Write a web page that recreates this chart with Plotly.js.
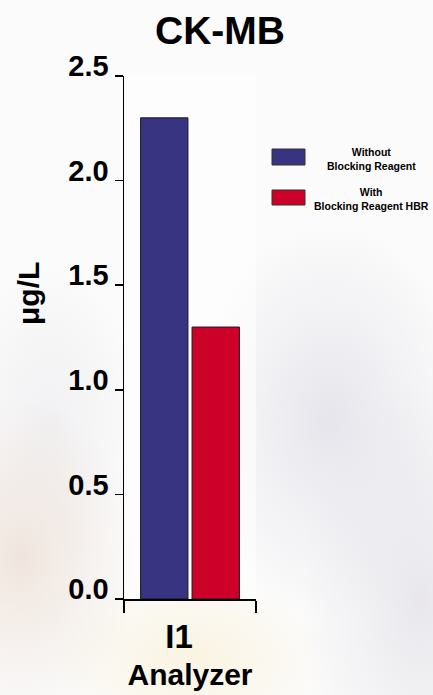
<!DOCTYPE html>
<html><head><meta charset="utf-8">
<script src="https://cdn.plot.ly/plotly-3.0.1.min.js"></script>
<style>
html,body{margin:0;padding:0;width:433px;height:695px;overflow:hidden;}
body{
  background:
    radial-gradient(ellipse 120px 160px at 20px 560px, rgba(236,222,212,0.75), rgba(236,222,212,0) 100%),
    radial-gradient(ellipse 140px 200px at 330px 420px, rgba(226,224,232,0.8), rgba(226,224,232,0) 100%),
    radial-gradient(ellipse 120px 220px at 420px 600px, rgba(228,226,232,0.8), rgba(228,226,232,0) 100%),
    radial-gradient(ellipse 140px 90px at 190px 660px, rgba(250,243,222,0.9), rgba(250,243,222,0) 100%),
    radial-gradient(ellipse 90px 160px at 50px 420px, rgba(234,232,236,0.6), rgba(234,232,236,0) 100%),
    #fbfbfb;
}
#chart{width:433px;height:695px;}
</style></head><body><div id="chart"></div>
<script>
const categories = ['I1'];
const seriesNames = ['Without<br>Blocking Reagent', 'With<br>Blocking Reagent HBR'];
const withoutBlocking = [2.3];
const withBlocking = [1.3];
const yTickVals = [0, 0.5, 1, 1.5, 2, 2.5];
const yTickText = ['0.0', '0.5', '1.0', '1.5', '2.0', '2.5'];
const seriesColors = ['#383482', '#cc0029'];
const chartTitle = 'CK-MB';
const yTitle = 'μg/L';
const xTitle = 'Analyzer';

const FONT = 'Liberation Sans, Arial, sans-serif';
const W = 433, H = 695;
const L = 124, R = 256, T = 76, B = 599;
const px = v => (v - L) / (R - L);
const py = v => (B - v) / (B - T);

const traces = [withoutBlocking, withBlocking].map((vals, i) => ({
  type: 'bar',
  x: categories,
  y: vals,
  name: seriesNames[i],
  marker: {color: seriesColors[i], line: {color: '#1a1a1a', width: 1}},
  showlegend: false,
  hoverinfo: 'none'
}));

const shapes = [];
const annotations = [];
const swatches = [[149, 165, 159], [190, 205, 198.5]];
swatches.forEach((s, i) => {
  shapes.push({type: 'rect', xref: 'paper', yref: 'paper',
    x0: px(272), x1: px(305), y0: py(s[1]), y1: py(s[0]),
    fillcolor: seriesColors[i], line: {color: '#333', width: 1}});
  annotations.push({xref: 'paper', yref: 'paper', x: px(371), y: py(s[2]),
    xanchor: 'center', yanchor: 'middle', align: 'center', showarrow: false,
    text: seriesNames[i], font: {family: FONT, size: 10.5, color: '#000', weight: 'bold'}});
});
annotations.push({xref: 'paper', yref: 'paper', x: px(28), y: py(294),
  xanchor: 'center', yanchor: 'middle', showarrow: false, textangle: -90,
  text: yTitle, font: {family: FONT, size: 30, color: '#000', weight: 'bold'}});

const layout = {
  width: W, height: H,
  margin: {l: L, r: W - R, t: T, b: H - B, pad: 0},
  paper_bgcolor: 'rgba(0,0,0,0)',
  plot_bgcolor: 'rgba(255,255,255,0.55)',
  barmode: 'group', bargap: 0.22, bargroupgap: 0.08,
  title: {text: chartTitle, font: {family: FONT, size: 39, color: '#000', weight: 'bold'},
    x: 220 / W, xref: 'container', xanchor: 'center', y: 1 - 30 / H, yref: 'container', yanchor: 'middle'},
  xaxis: {type: 'category', range: [-0.5, 0.5], showline: true, linecolor: '#000', linewidth: 1.5,
    ticks: 'outside', ticklen: 12, tickwidth: 1.5, tickcolor: '#000', tickson: 'boundaries',
    showgrid: false, zeroline: false, ticklabelshift: -11, ticklabelstandoff: 8,
    tickfont: {family: FONT, size: 33, color: '#000', weight: 'bold'},
    title: {text: xTitle, standoff: 10, font: {family: FONT, size: 30, color: '#000', weight: 'bold'}},
    fixedrange: true},
  yaxis: {range: [0, 2.5], showline: true, linecolor: '#000', linewidth: 1.5,
    ticks: 'outside', ticklen: 8, tickwidth: 1.5, tickcolor: '#000',
    tickvals: yTickVals, ticktext: yTickText, showgrid: false, zeroline: false,
    ticklabelshift: -10,
    tickfont: {family: FONT, size: 29, color: '#000', weight: 'bold'}, fixedrange: true},
  shapes: shapes,
  annotations: annotations
};
Plotly.newPlot('chart', traces, layout, {displayModeBar: false, staticPlot: true});
</script></body></html>
